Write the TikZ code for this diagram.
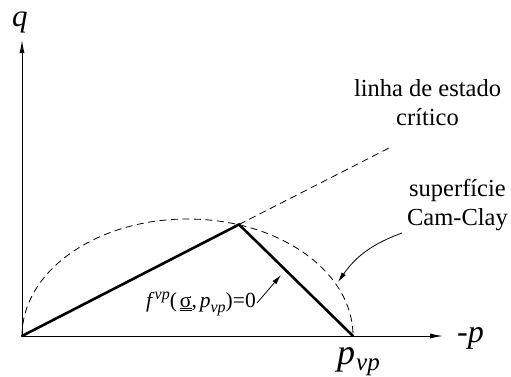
\documentclass[tikz,border=0pt]{standalone}
\usepackage{fontspec}
\setmainfont{Liberation Serif}
\usetikzlibrary{arrows.meta}
\begin{document}
\begin{tikzpicture}[x=1pt,y=1pt,
  axis/.style={line width=0.9pt,-{Latex[length=13pt,width=5pt]}},
  thickln/.style={line width=2.6pt,line cap=round,line join=miter},
  dashln/.style={line width=0.8pt,dash pattern=on 7pt off 4.5pt},
  lbl/.style={inner sep=0pt,font=\fontsize{24.5}{29}\selectfont},
  pointer/.style={line width=0.8pt,-{Latex[length=10pt,width=5pt]}}]
\useasboundingbox (0,0) rectangle (511,376);
\coordinate (O) at (22,40);
\coordinate (Ytip) at (22,336);
\coordinate (Xtip) at (443,40);
\coordinate (P) at (239,151.5);
\coordinate (Pvp) at (353,40);
\coordinate (Cend) at (392,229.5);
% axes
\draw[axis] (O) -- (Ytip);
\draw[axis] (O) -- (Xtip);
% ellipse (Cam-Clay)
\draw[dashln] (O) arc[start angle=180,end angle=0,x radius=165.5,y radius=117];
% critical state line continuation
\draw[dashln] (P) -- (Cend);
% yield surface
\draw[thickln] (O) -- (P) -- (Pvp);
% labels
\node[lbl,anchor=base,font=\fontsize{31}{31}\selectfont\itshape] (q) at (20,350) {q};
\node[lbl,anchor=base west,font=\fontsize{32}{32}\selectfont\itshape] (mp) at (457,34) {-p};
\node[lbl,anchor=base west,font=\fontsize{36}{36}\selectfont\itshape] (pvp) at (337,12) {p\kern1pt\raisebox{-6pt}{\fontsize{25}{25}\selectfont vp}};
\node[lbl,align=center,anchor=base] (csl) at (427.5,251) {linha de estado\\crítico};
\node[lbl,align=center,anchor=base] (cc) at (457.5,151) {superfície\\Cam-Clay};
\node[lbl,anchor=base west,font=\fontsize{21.5}{21.5}\selectfont] (f) at (146,69)
  {\textit{f}\raisebox{8pt}{\fontsize{16}{16}\selectfont\itshape vp}(\kern3pt$\underline{\underline{\hbox{σ}}}$,\kern3pt\textit{p}\raisebox{-5pt}{\fontsize{16}{16}\selectfont\itshape vp})=0};
% pointers
\coordinate (ccs) at (402,143);
\coordinate (cct) at (338,94);
\draw[pointer] (ccs) to[out=200,in=55] (cct);
\coordinate (fs) at (257,73);
\coordinate (ft) at (281,101);
\draw[pointer] (fs) -- (ft);
\end{tikzpicture}
\end{document}
